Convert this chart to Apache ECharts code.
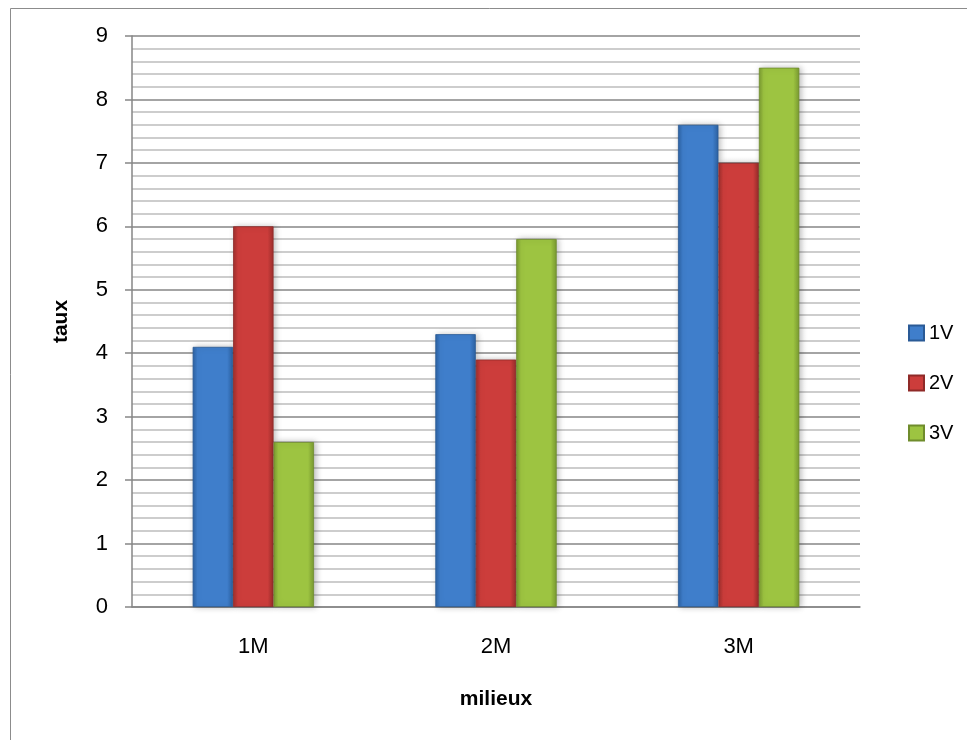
<!DOCTYPE html>
<html><head><meta charset="utf-8">
<script src="https://cdn.jsdelivr.net/npm/echarts@6/dist/echarts.min.js"></script>
<style>html,body{margin:0;padding:0;background:#fff}#c{width:967px;height:740px}</style>
</head><body><div id="c"></div>
<script>
const categories = ['1M', '2M', '3M'];
const seriesNames = ['1V', '2V', '3V'];
const v1 = [4.1, 4.3, 7.6];
const v2 = [6.0, 3.9, 7.0];
const v3 = [2.6, 5.8, 8.5];
const yTicks = [0, 1, 2, 3, 4, 5, 6, 7, 8, 9];

function grad(edge, mid) {
  return new echarts.graphic.LinearGradient(0, 0, 1, 0, [
    {offset: 0, color: edge}, {offset: 0.12, color: mid}, {offset: 0.85, color: mid}, {offset: 1, color: edge}
  ]);
}
const palette = [
  {edge: '#2d62a3', mid: '#3f7ecb', border: '#2a5a96'},
  {edge: '#9e2f2d', mid: '#cc3d3b', border: '#8f2a28'},
  {edge: '#7a9a31', mid: '#9dc441', border: '#6f8c2c'}
];
const data = [v1, v2, v3];
const FONT = 'Liberation Sans, Arial';
const chart = echarts.init(document.getElementById('c'), null, {renderer: 'canvas'});
chart.setOption({
  animation: false,
  backgroundColor: '#fff',
  graphic: [{
    type: 'rect', shape: {x: 10.5, y: 8.5, width: 1000, height: 800},
    style: {fill: 'none', stroke: '#8c8c8c', lineWidth: 1}, silent: true, z: -10
  }],
  grid: {left: 132, right: 107, top: 36, bottom: 133},
  legend: {
    orient: 'vertical', left: 903, top: 318, itemWidth: 15, itemHeight: 15, itemGap: 30,
    icon: 'rect',
    textStyle: {fontFamily: FONT, fontSize: 20, color: '#000'},
    data: seriesNames
  },
  xAxis: {
    type: 'category', data: categories,
    name: 'milieux', nameLocation: 'middle', nameGap: 82,
    nameTextStyle: {fontFamily: FONT, fontWeight: 'bold', fontSize: 21, color: '#000'},
    axisLine: {show: true, lineStyle: {color: '#868686', width: 1.5}},
    axisTick: {show: false},
    axisLabel: {fontFamily: FONT, fontSize: 22, color: '#000', margin: 29}
  },
  yAxis: {
    type: 'value', min: 0, max: 9, interval: 1,
    name: 'taux', nameLocation: 'middle', nameGap: 60, nameRotate: 90,
    nameTextStyle: {fontFamily: FONT, fontWeight: 'bold', fontSize: 21, color: '#000'},
    axisLine: {show: true, lineStyle: {color: '#868686', width: 1.5}},
    axisTick: {show: true, inside: false, length: 7, lineStyle: {color: '#868686', width: 1.5}},
    axisLabel: {fontFamily: FONT, fontSize: 22, color: '#000', margin: 24,
      formatter: function (v) { return yTicks.indexOf(v) >= 0 ? String(v) : ''; }},
    splitLine: {show: true, lineStyle: {color: '#868686', width: 1.5}},
    minorTick: {show: false, splitNumber: 5},
    minorSplitLine: {show: true, lineStyle: {color: '#bdbdbd', width: 1.5}}
  },
  series: seriesNames.map(function (n, i) {
    return {
      name: n, type: 'bar', data: data[i],
      barGap: '0%', barCategoryGap: '50%',
      itemStyle: {
        color: grad(palette[i].edge, palette[i].mid),
        borderColor: palette[i].border, borderWidth: 0.8,
        shadowColor: 'rgba(0,0,0,0.25)', shadowBlur: 6, shadowOffsetX: 2, shadowOffsetY: 0
      }
    };
  })
});
</script></body></html>
